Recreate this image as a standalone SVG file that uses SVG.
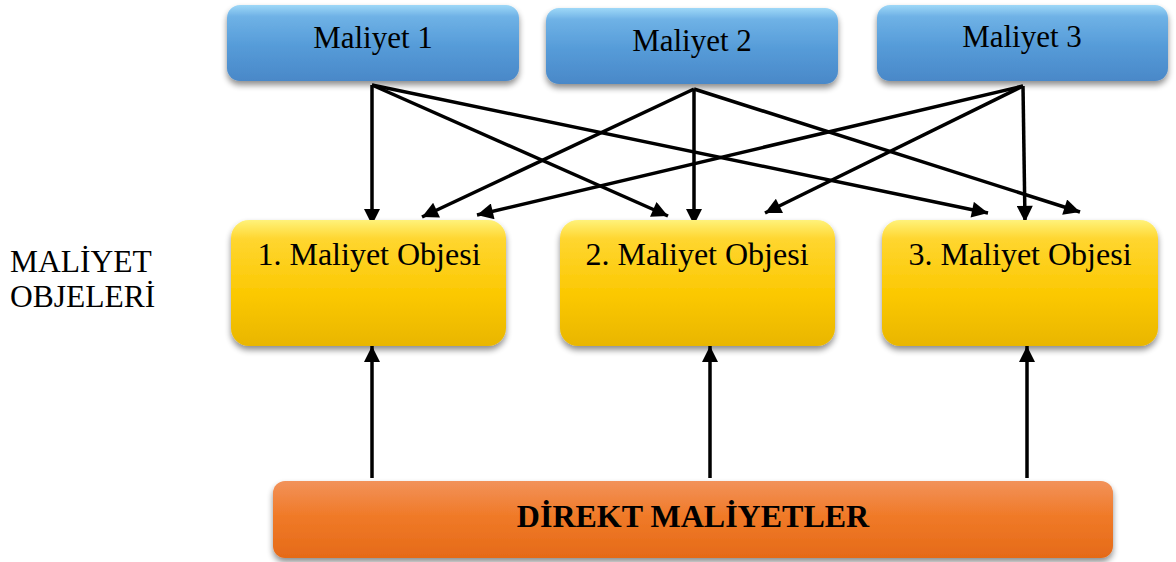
<svg xmlns="http://www.w3.org/2000/svg" width="1176" height="562" viewBox="0 0 1176 562">
<defs>
<linearGradient id="gBlue" x1="0" y1="0" x2="0" y2="1">
<stop offset="0" stop-color="#9ED8F7"/>
<stop offset="0.15" stop-color="#6FB2E6"/>
<stop offset="0.55" stop-color="#559BD8"/>
<stop offset="1" stop-color="#4A88C8"/>
</linearGradient>
<linearGradient id="gYellow" x1="0" y1="0" x2="0" y2="1">
<stop offset="0" stop-color="#FFF27A"/>
<stop offset="0.15" stop-color="#FFD630"/>
<stop offset="0.6" stop-color="#FBC800"/>
<stop offset="1" stop-color="#E9B600"/>
</linearGradient>
<linearGradient id="gOrange" x1="0" y1="0" x2="0" y2="1">
<stop offset="0" stop-color="#F2925A"/>
<stop offset="0.45" stop-color="#F07A28"/>
<stop offset="1" stop-color="#E56A18"/>
</linearGradient>
<filter id="sh" x="-10%" y="-20%" width="120%" height="150%">
<feGaussianBlur in="SourceAlpha" stdDeviation="3"/>
<feOffset dx="0" dy="4" result="b"/>
<feComponentTransfer><feFuncA type="linear" slope="0.45"/></feComponentTransfer>
<feMerge><feMergeNode/><feMergeNode in="SourceGraphic"/></feMerge>
</filter>
<marker id="ah" viewBox="0 0 10 10" refX="10" refY="5" markerWidth="5.5" markerHeight="4.6" markerUnits="strokeWidth" orient="auto">
<path d="M0,0 L10,5 L0,10 z" fill="#000"/>
</marker>
<style>
.t{font-family:"Liberation Serif","Times New Roman",serif;fill:#000;}
.c{stroke:#000;stroke-width:3.5;fill:none;marker-end:url(#ah);}
</style>
</defs>

<g id="connectors">
<line class="c" x1="372" y1="85" x2="372" y2="225"/>
<line class="c" x1="372" y1="85" x2="668" y2="216"/>
<line class="c" x1="372" y1="85" x2="988" y2="213"/>
<line class="c" x1="694" y1="89" x2="422" y2="217"/>
<line class="c" x1="694" y1="89" x2="694" y2="225"/>
<line class="c" x1="694" y1="89" x2="1080" y2="212"/>
<line class="c" x1="1023" y1="86" x2="477" y2="215"/>
<line class="c" x1="1023" y1="86" x2="765" y2="213"/>
<line class="c" x1="1023" y1="86" x2="1025" y2="222"/>
<line class="c" x1="372" y1="478" x2="372" y2="346"/>
<line class="c" x1="710" y1="478" x2="710" y2="346"/>
<line class="c" x1="1027" y1="478" x2="1027" y2="346"/>
</g>

<g id="maliyet1">
<rect x="227" y="5" width="292" height="76" rx="13" fill="url(#gBlue)" filter="url(#sh)"/>
<text class="t" x="373" y="48" font-size="31" text-anchor="middle">Maliyet 1</text>
</g>
<g id="maliyet2">
<rect x="546" y="8" width="292" height="76" rx="13" fill="url(#gBlue)" filter="url(#sh)"/>
<text class="t" x="692" y="51" font-size="31" text-anchor="middle">Maliyet 2</text>
</g>
<g id="maliyet3">
<rect x="877" y="5" width="291" height="76" rx="13" fill="url(#gBlue)" filter="url(#sh)"/>
<text class="t" x="1022" y="47" font-size="31" text-anchor="middle">Maliyet 3</text>
</g>

<g id="obje1">
<rect x="231" y="220" width="275" height="126" rx="18" fill="url(#gYellow)" filter="url(#sh)"/>
<text class="t" x="369" y="265" font-size="32" text-anchor="middle">1. Maliyet Objesi</text>
</g>
<g id="obje2">
<rect x="560" y="220" width="275" height="126" rx="18" fill="url(#gYellow)" filter="url(#sh)"/>
<text class="t" x="697" y="265" font-size="32" text-anchor="middle">2. Maliyet Objesi</text>
</g>
<g id="obje3">
<rect x="882" y="220" width="276" height="126" rx="18" fill="url(#gYellow)" filter="url(#sh)"/>
<text class="t" x="1020" y="265" font-size="32" text-anchor="middle">3. Maliyet Objesi</text>
</g>

<g id="direkt">
<rect x="273" y="481" width="840" height="77" rx="12" fill="url(#gOrange)" filter="url(#sh)"/>
<text class="t" x="693" y="527" font-size="32" font-weight="bold" text-anchor="middle">DİREKT MALİYETLER</text>
</g>

<g id="label">
<text class="t" x="10" y="272" font-size="31.5">MALİYET</text>
<text class="t" x="10" y="307" font-size="31.5">OBJELERİ</text>
</g>
</svg>
